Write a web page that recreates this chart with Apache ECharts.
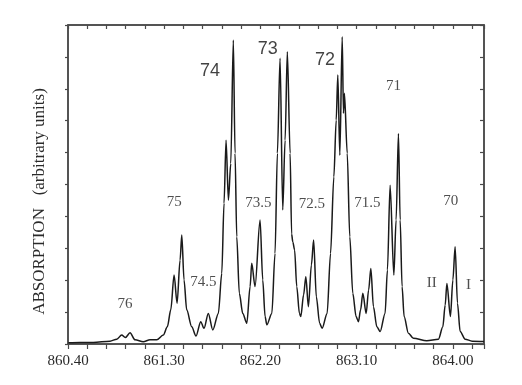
<!DOCTYPE html>
<html>
<head>
<meta charset="utf-8">
<script src="https://cdn.jsdelivr.net/npm/echarts@6/dist/echarts.min.js"></script>
<style>
  html, body { margin: 0; padding: 0; background: #fff; }
  #chart { width: 522px; height: 385px; }
</style>
</head>
<body>
<div id="chart"></div>
<script>
// spectrum (wavenumber, absorption in tick units)
const waveNumber = [
  860.403, 860.512, 860.637, 860.793, 860.856, 860.902, 860.936, 860.980, 861.027, 861.104,
  861.167, 861.230, 861.291, 861.329, 861.361, 861.392, 861.420, 861.448, 861.464, 861.485,
  861.510, 861.557, 861.597, 861.641, 861.672, 861.712, 861.754, 861.806, 861.838, 861.859,
  861.878, 861.900, 861.922, 861.946, 861.962, 861.978, 862.002, 862.034, 862.072, 862.103,
  862.118, 862.149, 862.196, 862.221, 862.243, 862.259, 862.306, 862.336, 862.358, 862.383,
  862.408, 862.430, 862.451, 862.477, 862.491, 862.502, 862.519, 862.539, 862.564, 862.577,
  862.603, 862.624, 862.648, 862.676, 862.697, 862.722, 862.753, 862.776, 862.823, 862.855,
  862.886, 862.908, 862.923, 862.942, 862.964, 862.976, 862.985, 863.011, 863.035, 863.063,
  863.094, 863.116, 863.136, 863.157, 863.188, 863.211, 863.232, 863.256, 863.288, 863.319,
  863.365, 863.387, 863.412, 863.447, 863.468, 863.490, 863.506, 863.524, 863.543, 863.583,
  863.630, 863.755, 863.864, 863.905, 863.927, 863.943, 863.976, 863.999, 864.020, 864.042,
  864.067, 864.114, 864.179, 864.290
];
const absorption = [
  0.04, 0.05, 0.05, 0.09, 0.15, 0.28, 0.20, 0.35, 0.13, 0.07,
  0.13, 0.13, 0.28, 0.54, 1.07, 2.16, 1.28, 2.63, 3.42, 2.01,
  1.07, 0.54, 0.25, 0.70, 0.49, 0.96, 0.44, 0.96, 2.22, 4.41,
  6.39, 4.51, 5.66, 9.53, 5.98, 3.36, 1.59, 0.96, 0.65, 1.80,
  2.53, 1.80, 3.89, 2.01, 0.86, 0.60, 0.96, 2.84, 5.98, 8.96,
  4.20, 6.39, 9.16, 5.98, 3.45, 3.20, 2.95, 1.80, 0.96, 0.86,
  1.54, 2.11, 1.17, 2.48, 3.26, 1.48, 0.65, 0.49, 0.96, 2.84,
  5.24, 7.02, 8.43, 5.92, 9.63, 7.23, 7.86, 5.98, 3.36, 1.59,
  0.86, 0.70, 1.07, 1.59, 0.96, 1.69, 2.37, 1.17, 0.54, 0.39,
  0.96, 2.32, 4.98, 2.16, 3.89, 6.60, 3.89, 1.80, 0.86, 0.34,
  0.18, 0.10, 0.15, 0.54, 1.22, 1.90, 0.86, 2.01, 3.05, 1.28,
  0.39, 0.15, 0.09, 0.08
];

// band labels and where they sit in data units
const bandNames = ['76', '75', '74.5', '74', '73.5', '73', '72.5', '72', '71.5', '71', '70', 'II', 'I'];
const bandX = [860.933, 861.394, 861.666, 861.728, 862.180, 862.268, 862.680, 862.804, 863.200, 863.443, 863.980, 863.802, 864.145];
const bandY = [1.25, 4.46, 1.95, 8.57, 4.43, 9.25, 4.39, 8.90, 4.43, 8.09, 4.48, 1.90, 1.85];
const sansNames = ['74', '73', '72'];

const xMin = 860.40, xMax = 864.29, xStep = 0.18;

var chart = echarts.init(document.getElementById('chart'));

const serif = 'Liberation Serif';
const ink = '#4a4a4a';
const noText = function () { return ''; };

const bandData = bandNames.map((n, i) => {
  const sans = sansNames.indexOf(n) >= 0;
  return {
    name: n,
    value: [bandX[i], bandY[i]],
    label: {
      fontFamily: sans ? 'Liberation Sans' : serif,
      fontSize: sans ? 18 : 15,
      color: sans ? '#111' : '#222'
    }
  };
});

chart.setOption({
  animation: false,
  backgroundColor: '#fff',
  grid: { left: 68, right: 38, top: 25, bottom: 41, show: true, borderColor: ink, borderWidth: 1.5 },
  xAxis: [
    {
      type: 'value', min: xMin, max: xMax, interval: xStep,
      axisLine: { show: true, onZero: false, lineStyle: { color: ink, width: 1.5 } },
      axisTick: { show: true, inside: false, length: 5, lineStyle: { color: ink, width: 1.2 } },
      axisLabel: {
        margin: 10, fontFamily: serif, fontSize: 15, color: '#2a2a2a',
        formatter: function (v) {
          const k = Math.round((v - xMin) / xStep);
          return k % 5 === 0 ? v.toFixed(2) : '';
        }
      },
      splitLine: { show: false }
    },
    {
      type: 'value', position: 'top', min: xMin, max: xMax, interval: xStep,
      axisLine: { show: true, onZero: false, lineStyle: { color: ink, width: 1.5 } },
      axisTick: { show: true, inside: true, length: 4, lineStyle: { color: ink, width: 1.2 } },
      axisLabel: { show: true, formatter: noText },
      splitLine: { show: false }
    }
  ],
  yAxis: [
    {
      type: 'value', min: 0, max: 10, interval: 1,
      name: 'ABSORPTION   (arbitrary units)',
      nameLocation: 'middle', nameRotate: 90, nameGap: 20,
      nameTextStyle: { fontFamily: serif, fontSize: 17, color: '#2a2a2a', padding: [0, 34, 0, 0] },
      axisLine: { show: true, onZero: false, lineStyle: { color: ink, width: 1.5 } },
      axisTick: { show: true, inside: false, length: 3, lineStyle: { color: ink, width: 1.2 } },
      axisLabel: { show: true, formatter: noText },
      splitLine: { show: false }
    },
    {
      type: 'value', position: 'right', min: 0, max: 10, interval: 1,
      axisLine: { show: true, onZero: false, lineStyle: { color: ink, width: 1.5 } },
      axisTick: { show: true, inside: true, length: 4, lineStyle: { color: ink, width: 1.2 } },
      axisLabel: { show: true, formatter: noText },
      splitLine: { show: false }
    }
  ],
  series: [
    {
      type: 'line',
      data: waveNumber.map((x, i) => [x, absorption[i]]),
      showSymbol: false,
      lineStyle: { color: '#1a1a1a', width: 1.5 },
      smooth: 0.3,
      smoothMonotone: 'x'
    },
    {
      type: 'scatter',
      data: bandData,
      symbolSize: 0,
      label: { show: true, position: 'inside', formatter: '{b}' }
    }
  ]
});
</script>
</body>
</html>
